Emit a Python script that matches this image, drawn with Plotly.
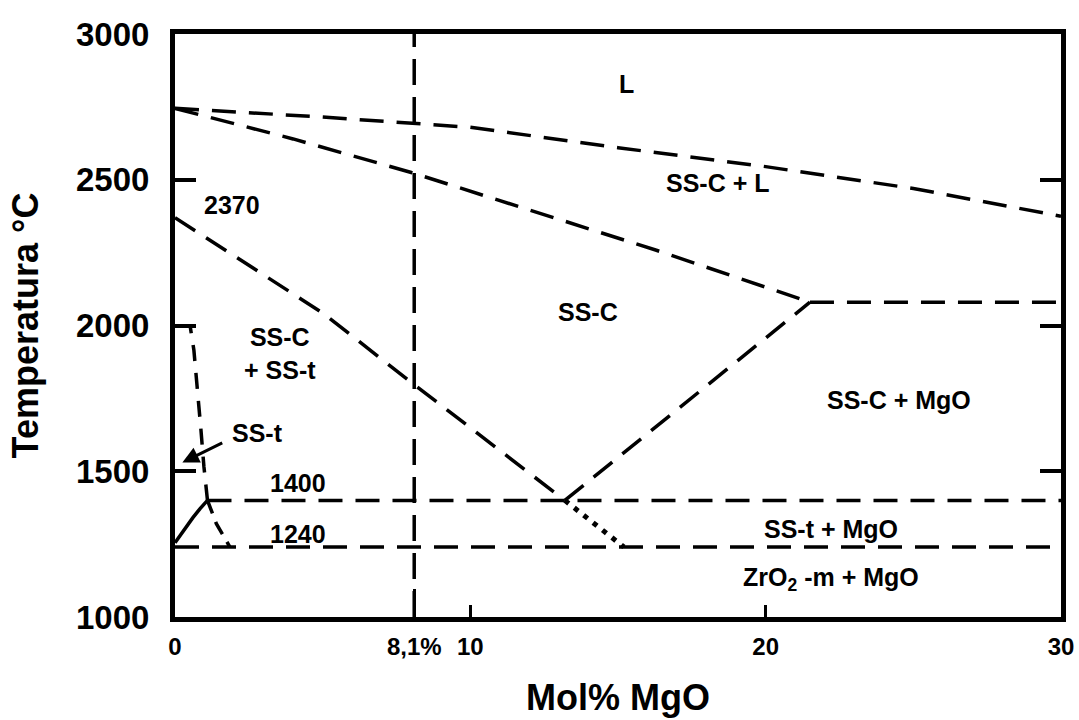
import plotly.graph_objects as go

# ZrO2–MgO phase diagram: temperature (°C) vs mol% MgO

# Liquidus (L / SS-C + L boundary)
liquidus_x = [0, 5, 10, 15, 20, 25, 30]
liquidus_t = [2745, 2715, 2680, 2610, 2545, 2470, 2375]

# Solidus of the cubic solid solution down to the eutectic at 2080 °C
solidus_x = [0, 4, 8, 12, 16.3, 21.5]
solidus_t = [2745, 2640, 2525, 2396, 2258, 2080]

# Eutectic isotherm
eutectic_x = [21.5, 30]
eutectic_t = [2080, 2080]

# SS-C / SS-C + SS-t boundary from 2370 °C to the eutectoid point
cub_tet_x = [0, 5, 8, 13.2]
cub_tet_t = [2370, 2043, 1805, 1400]

# SS-C / SS-C + MgO boundary
cub_mgo_x = [13.2, 21.5]
cub_mgo_t = [1400, 2080]

# Eutectoid isotherm (1400 °C) and monoclinic transformation (1240 °C)
iso1400_x = [1.1, 30]
iso1400_t = [1400, 1400]
iso1240_x = [0, 30]
iso1240_t = [1240, 1240]

# Metastable extension below the eutectoid
dotted_x = [13.2, 15.2]
dotted_t = [1400, 1240]

# Tetragonal solid solution field boundaries
sst_solid_x = [0, 0.3, 0.6, 0.85, 1.1]
sst_solid_t = [1255, 1300, 1340, 1372, 1400]
sst_upper_x = [1.1, 0.98, 0.88, 0.75, 0.64, 0.51]
sst_upper_t = [1400, 1515, 1640, 1780, 1915, 2000]
sst_lower_x = [1.1, 1.4, 1.86]
sst_lower_t = [1400, 1320, 1240]

# Reference composition 8,1 mol% MgO
ref_x = [8.1, 8.1]
ref_t = [1000, 3000]

# Region labels
labels = [
    ("L", 15.3, 2830),
    ("SS-C + L", 18.4, 2490),
    ("SS-C", 14.0, 2046),
    ("SS-C<br>+ SS-t", 3.55, 1905),
    ("SS-C + MgO", 24.5, 1745),
    ("SS-t + MgO", 22.2, 1301),
    ("ZrO<sub>2</sub> -m + MgO", 22.2, 1130),
]
temp_labels = [("2370", 1.92, 2412), ("1400", 4.15, 1461), ("1240", 4.15, 1284)]

x_ticks = [0, 8.1, 10, 20, 30]
x_ticktext = ["0", "8,1%", "10", "20", "30"]
y_ticks = [1000, 1500, 2000, 2500, 3000]

FONT = "Liberation Sans, Arial, Helvetica, sans-serif"
DASH = "24px,13px"
W = 3.5

fig = go.Figure()


def add_line(x, y, dash=DASH, width=W, xaxis="x"):
    fig.add_trace(go.Scatter(x=x, y=y, mode="lines", xaxis=xaxis,
                             line=dict(color="black", width=width, dash=dash),
                             hoverinfo="skip", showlegend=False))


add_line(liquidus_x, liquidus_t)
add_line(solidus_x, solidus_t)
add_line(eutectic_x, eutectic_t)
add_line(cub_tet_x, cub_tet_t)
add_line(cub_mgo_x, cub_mgo_t)
add_line(iso1400_x, iso1400_t)
add_line(iso1240_x, iso1240_t)
add_line(dotted_x, dotted_t, dash="5px,7px", width=5)
add_line(sst_solid_x, sst_solid_t, dash="solid", width=3.5)
add_line(sst_upper_x, sst_upper_t, dash="16px,12px", width=3.5)
add_line(sst_lower_x, sst_lower_t, dash="14px,9px", width=3.5)
add_line(ref_x, ref_t, dash="26px,12px", width=3.5, xaxis="x2")

for text, x, y in labels:
    fig.add_annotation(x=x, y=y, text=text, showarrow=False,
                       font=dict(family=FONT, size=25, color="black", weight="bold"),
                       align="center")
for text, x, y in temp_labels:
    fig.add_annotation(x=x, y=y, text=text, showarrow=False,
                       font=dict(family=FONT, size=25, color="black", weight="bold"))

# SS-t label with arrow pointing at the narrow tetragonal field
fig.add_annotation(x=0.25, y=1530, ax=1.65, ay=1600, axref="x", ayref="y",
                   text="", showarrow=True, arrowhead=2, arrowsize=1.1,
                   arrowwidth=3, arrowcolor="black")
fig.add_annotation(x=1.85, y=1632, text="SS-t", showarrow=False, xanchor="left",
                   font=dict(family=FONT, size=25, color="black", weight="bold"))

fig.update_layout(
    width=1079, height=720,
    margin=dict(l=175, r=18, t=34, b=103),
    paper_bgcolor="white", plot_bgcolor="white",
    font=dict(family=FONT, color="black"),
    xaxis=dict(range=[0, 30], tickvals=x_ticks, ticktext=x_ticktext,
               ticks="inside", ticklen=12, tickwidth=3, tickcolor="black",
               showline=True, linewidth=5, linecolor="black", mirror=True,
               showgrid=False, zeroline=False, automargin=False,
               tickfont=dict(family=FONT, size=24, weight="bold"),
               ticklabelstandoff=4,
               title=dict(text="Mol% MgO", standoff=28,
                          font=dict(family=FONT, size=36, weight="bold"))),
    xaxis2=dict(range=[0, 30], overlaying="x", side="bottom",
                tickvals=[8.1], ticks="inside", ticklen=28, tickwidth=3,
                tickcolor="black", showticklabels=False, showline=False,
                showgrid=False, zeroline=False, automargin=False),
    yaxis=dict(range=[1000, 3000], tickvals=y_ticks,
               ticks="inside", ticklen=21, tickwidth=4, tickcolor="black",
               showline=True, linewidth=5, linecolor="black", mirror="ticks",
               showgrid=False, zeroline=False, automargin=False,
               tickfont=dict(family=FONT, size=33, weight="bold"),
               ticklabelstandoff=14,
               title=dict(text="Temperatura °C", standoff=28,
                          font=dict(family=FONT, size=36, weight="bold"))),
)

fig.write_html("out.html")
